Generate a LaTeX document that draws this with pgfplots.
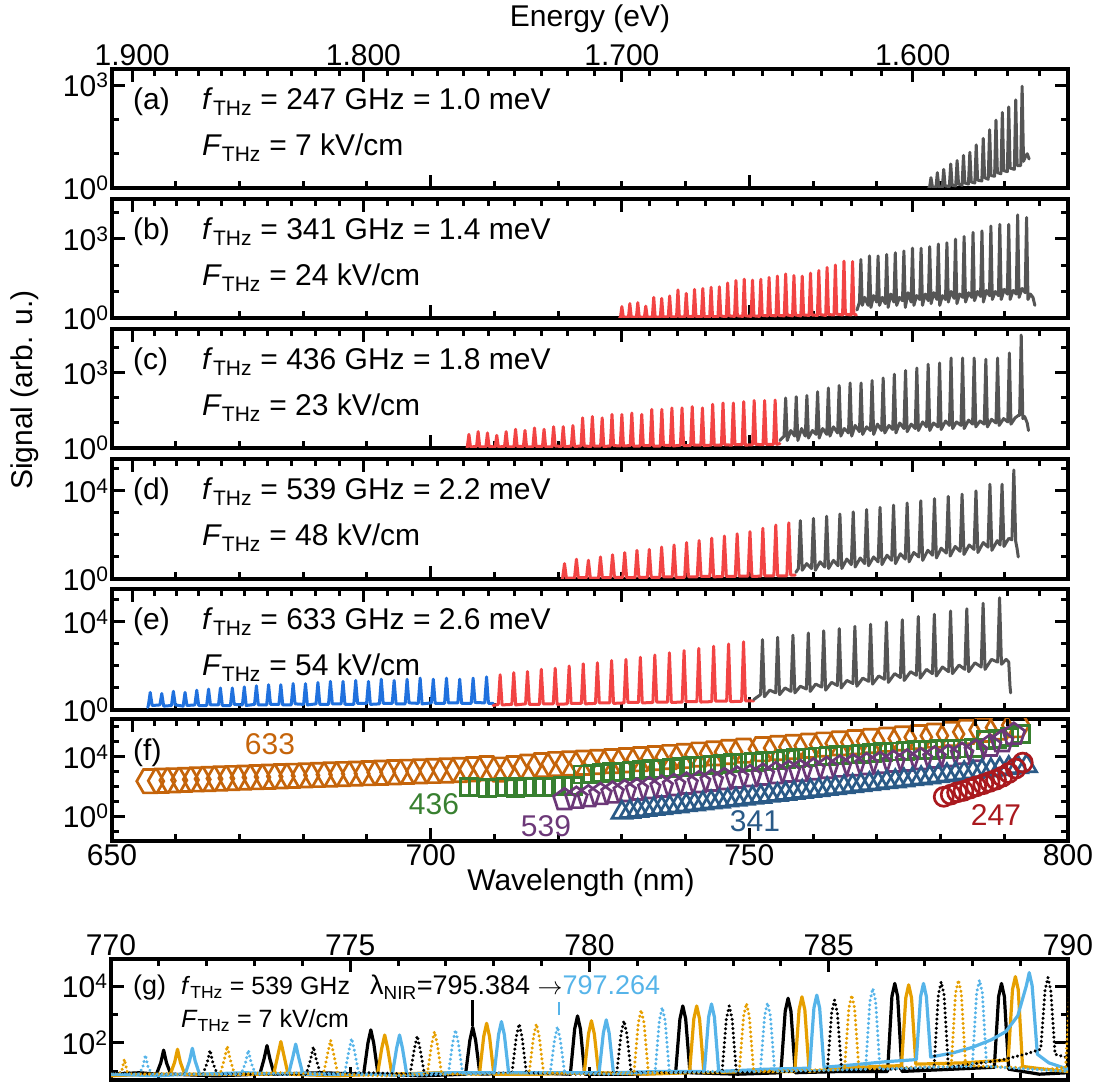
\documentclass[border=0pt]{standalone}
\usepackage{fontspec}
\setmainfont{Liberation Sans}
\usepackage{pgfplots}
\pgfplotsset{compat=1.18}
\newcommand{\fs}{\fontsize{30}{36}\selectfont}
\newcommand{\fg}{\fontsize{25}{30}\selectfont}
\newcommand{\fl}{\fontsize{27}{32}\selectfont}
\definecolor{cgray}{RGB}{85,85,85}
\definecolor{cred}{RGB}{242,68,68}
\definecolor{cblue}{RGB}{32,113,222}
\definecolor{c633}{RGB}{197,100,10}
\definecolor{c436}{RGB}{56,128,48}
\definecolor{c539}{RGB}{108,56,120}
\definecolor{c341}{RGB}{42,90,135}
\definecolor{c247}{RGB}{170,25,30}
\definecolor{gorange}{RGB}{230,159,0}
\definecolor{gsky}{RGB}{86,180,233}
\pgfdeclareplotmark{hexagon}{%
  \pgfpathmoveto{\pgfqpointpolar{0}{\pgfplotmarksize}}%
  \pgfpathlineto{\pgfqpointpolar{60}{\pgfplotmarksize}}%
  \pgfpathlineto{\pgfqpointpolar{120}{\pgfplotmarksize}}%
  \pgfpathlineto{\pgfqpointpolar{180}{\pgfplotmarksize}}%
  \pgfpathlineto{\pgfqpointpolar{240}{\pgfplotmarksize}}%
  \pgfpathlineto{\pgfqpointpolar{300}{\pgfplotmarksize}}%
  \pgfpathclose\pgfusepathqstroke}
\pgfplotsset{
  pnlbase/.style={scale only axis, anchor=south west,
    axis line style={line width=3.5pt},
    every tick/.style={black, line width=3pt},
    major tick length=13pt, minor tick length=7pt,
    tick align=inside, tick label style={font=\fs},
    clip marker paths=true},
  pnlwl/.style={pnlbase, width=956pt, xmin=650, xmax=800,
    xtick={650,700,750,800},
    minor xtick={660,670,680,690,710,720,730,740,760,770,780,790},
    xtick pos=left, xticklabels={}},
  pnlen/.style={pnlbase, width=956pt, xmin=650, xmax=800, ymin=0, ymax=1,
    ytick=\empty, axis line style={draw=none},
    xtick={653.16,689.44,730.00,775.63},
    minor xtick={656.61,660.11,663.64,667.20,670.81,674.46,678.14,681.87,685.64,693.30,697.19,701.13,705.11,709.14,713.22,717.34,721.51,725.73,734.32,738.69,743.11,747.59,752.12,756.71,761.35,766.05,770.81,780.50,785.44,790.45,795.51},
    xtick pos=right, xticklabels={}},
  plsp/.style={line width=3pt, line join=round, line cap=round, mark=none},
  plmk/.style={only marks, mark options={line width=2.7pt, solid, fill=none}},
  pldt/.style={line width=3.4pt, line join=round, line cap=round, mark=none, dash pattern=on 0.01pt off 4.6pt},
  plsl/.style={line width=3.2pt, line join=round, line cap=round, mark=none},
}
\begin{document}
\begin{tikzpicture}[x=1pt,y=1pt]
\path[use as bounding box] (0,0) rectangle (1098,1082);
% ---------------- (a)
\begin{axis}[pnlwl, height=119pt, at={(112pt,894pt)}, ymode=log, ymin=1, ymax=2950,
  ytick={1,1000}, yticklabels={10\textsuperscript{0},10\textsuperscript{3}}, minor ytick={10,100}]
\addplot[plsp, cgray] coordinates {(778.1,1) (778.28,1.05) (778.5,2.0) (778.72,1.1)
(779.28,1.0) (779.5,2.8) (779.72,1.1) (780.28,1.05) (780.5,3.5) (780.72,1.15)
(781.38,1.1) (781.6,5.0) (781.82,1.2) (782.38,1.15) (782.6,6.3) (782.82,1.3)
(783.38,1.2) (783.6,8.9) (783.82,1.4) (784.38,1.3) (784.6,11) (784.82,1.5)
(785.38,1.4) (785.6,18) (785.82,1.7) (786.48,1.6) (786.7,28) (786.92,2.0)
(787.48,1.8) (787.7,50) (787.92,2.3) (788.48,2.2) (788.7,95) (788.92,2.8)
(789.48,2.6) (789.7,160) (789.92,3.2) (790.48,3.0) (790.7,230) (790.92,3.8)
(791.58,3.5) (791.8,370) (792.02,4.5) (792.58,4.5) (792.8,930) (793.02,6) (793.3,8) (793.6,10) (793.9,7)};
\end{axis}
\begin{axis}[pnlen, height=119pt, at={(112pt,894pt)}, xticklabel pos=right, xticklabels={1.900,1.800,1.700,1.600}]
\end{axis}
% ---------------- (b)
\begin{axis}[pnlwl, height=119pt, at={(112pt,764pt)}, ymode=log, ymin=1, ymax=31000,
  ytick={1,1000}, yticklabels={10\textsuperscript{0},10\textsuperscript{3}}, minor ytick={10,100,10000}]
\addplot[plsp, cred] coordinates {(729.6,1) (729.78,1.05) (730.0,2.7) (730.22,1.1)
(731.03,1.05) (731.25,3.5) (731.47,1.1) (732.28,1.05) (732.5,3.8) (732.72,1.1)
(733.53,1.05) (733.75,2.8) (733.97,1.1) (734.78,1.05) (735.0,6.0) (735.22,1.1)
(736.03,1.05) (736.25,5.5) (736.47,1.1) (737.28,1.1) (737.5,6.8) (737.72,1.1)
(738.58,1.1) (738.8,11.5) (739.02,1.1) (739.88,1.1) (740.1,8.5) (740.32,1.15)
(741.18,1.1) (741.4,12) (741.62,1.15) (742.48,1.1) (742.7,13) (742.92,1.15)
(743.78,1.1) (744.0,14.5) (744.22,1.15) (745.08,1.1) (745.3,15) (745.52,1.2)
(746.38,1.1) (746.6,21) (746.82,1.2) (747.68,1.15) (747.9,26) (748.12,1.2)
(748.98,1.15) (749.2,29) (749.42,1.2) (750.28,1.15) (750.5,27) (750.72,1.2)
(751.58,1.15) (751.8,29) (752.02,1.25) (752.88,1.2) (753.1,34) (753.32,1.25)
(754.18,1.2) (754.4,38) (754.62,1.25) (755.48,1.2) (755.7,46) (755.92,1.3)
(756.78,1.2) (757.0,40) (757.22,1.3) (758.08,1.2) (758.3,38) (758.52,1.3)
(759.38,1.25) (759.6,49) (759.82,1.3) (760.68,1.25) (760.9,62) (761.12,1.35)
(761.98,1.25) (762.2,81) (762.42,1.35) (763.28,1.3) (763.5,100) (763.72,1.4)
(764.63,1.3) (764.85,140) (765.07,1.4) (765.98,1.3) (766.2,135) (766.42,1.4) (766.8,1.3)};
\addplot[plsp, cgray] coordinates {(766.9,2) (767.28,4) (767.5,160) (767.72,3) (768.1,6)
(768.63,3) (768.85,220) (769.07,2.5) (769.5,7) (769.98,4) (770.2,220) (770.42,3) (770.85,6)
(771.33,3.5) (771.55,250) (771.77,2.5) (772.2,8) (772.68,4) (772.9,290) (773.12,3) (773.55,6)
(774.03,4.5) (774.25,340) (774.47,2.5) (774.9,9) (775.38,4) (775.6,430) (775.82,3) (776.25,7)
(776.73,5) (776.95,430) (777.17,3) (777.6,8) (778.08,4.5) (778.3,490) (778.52,3.5) (778.95,9)
(779.43,5) (779.65,620) (779.87,3) (780.3,7) (780.78,5) (781.0,690) (781.22,4) (781.65,10)
(782.13,5.5) (782.35,950) (782.57,3.5) (783.0,8) (783.48,6) (783.7,1200) (783.92,4) (784.4,9)
(784.88,6) (785.1,1700) (785.32,4.5) (785.8,10) (786.28,6.5) (786.5,1950) (786.72,4) (787.2,11)
(787.68,7) (787.9,2950) (788.12,5) (788.6,10) (789.08,7) (789.3,3400) (789.52,5) (790.0,12)
(790.48,8) (790.7,3400) (790.92,5) (791.4,11) (791.88,8) (792.1,7800) (792.32,6) (792.8,13)
(793.28,9) (793.5,6200) (793.72,5) (794.1,8) (794.5,6) (794.8,3)};
\end{axis}
\begin{axis}[pnlen, height=119pt, at={(112pt,764pt)}]
\end{axis}
% ---------------- (c)
\begin{axis}[pnlwl, height=119pt, at={(112pt,634pt)}, ymode=log, ymin=1, ymax=57500,
  ytick={1,1000}, yticklabels={10\textsuperscript{0},10\textsuperscript{3}}, minor ytick={10,100,10000}]
\addplot[plsp, cred] coordinates {(705.7,1) (705.75,1.1) (706.00,3.5) (706.25,1.1)
(707.20,1.15) (707.45,4.5) (707.70,1.1) (708.66,1.1) (708.91,4.0) (709.16,1.15)
(710.12,1.1) (710.37,3.2) (710.62,1.1) (711.59,1.15) (711.84,4.5) (712.09,1.1)
(713.07,1.1) (713.32,5.6) (713.57,1.15) (714.55,1.15) (714.80,5.0) (715.05,1.1)
(716.04,1.1) (716.29,6.3) (716.54,1.15) (717.54,1.15) (717.79,5.6) (718.04,1.1)
(719.04,1.1) (719.29,7.1) (719.54,1.2) (720.55,1.15) (720.80,7.1) (721.05,1.1)
(722.07,1.2) (722.32,7.9) (722.57,1.15) (723.59,1.2) (723.84,16) (724.09,1.2)
(725.12,1.15) (725.37,18) (725.62,1.2) (726.66,1.2) (726.91,16) (727.16,1.15)
(728.20,1.2) (728.45,22) (728.70,1.25) (729.75,1.2) (730.00,22) (730.25,1.2)
(731.31,1.25) (731.56,25) (731.81,1.2) (732.87,1.2) (733.12,22) (733.37,1.25)
(734.44,1.25) (734.69,35) (734.94,1.2) (736.02,1.2) (736.27,35) (736.52,1.3)
(737.60,1.25) (737.85,40) (738.10,1.2) (739.19,1.3) (739.44,40) (739.69,1.25)
(740.79,1.25) (741.04,45) (741.29,1.3) (742.39,1.3) (742.64,40) (742.89,1.25)
(744.00,1.3) (744.25,56) (744.50,1.3) (745.62,1.3) (745.87,63) (746.12,1.35)
(747.24,1.3) (747.49,63) (747.74,1.35) (748.87,1.35) (749.12,71) (749.37,1.3)
(750.51,1.35) (750.76,79) (751.01,1.4) (752.15,1.35) (752.40,79) (752.65,1.4)
(753.80,1.4) (754.05,83) (754.30,1.4) (754.8,1.5)};
\addplot[plsp, cgray] coordinates {(754.8,2) (755.45,3) (755.70,100) (755.95,2) (756.5,5)
(757.11,3) (757.36,112) (757.61,2) (758.2,6) (758.78,3) (759.03,126) (759.28,2.5) (759.9,5)
(760.46,3.5) (760.71,178) (760.96,2.5) (761.5,6) (762.15,3.5) (762.40,251) (762.65,3) (763.2,7)
(763.85,4) (764.10,316) (764.35,3) (764.9,6) (765.56,4) (765.81,398) (766.06,3) (766.6,8)
(767.28,4.5) (767.53,398) (767.78,3.5) (768.4,7) (769.01,5) (769.26,501) (769.51,3.5) (770.1,9)
(770.75,5) (771.00,631) (771.25,4) (771.9,8) (772.50,5.5) (772.75,891) (773.00,4) (773.6,10)
(774.26,6) (774.51,1260) (774.76,4.5) (775.4,9) (776.03,6) (776.28,1580) (776.53,5) (777.2,11)
(777.81,7) (778.06,2240) (778.31,5) (778.9,10) (779.60,7) (779.85,2510) (780.10,5.5) (780.8,12)
(781.40,8) (781.65,3980) (781.90,6) (782.5,11) (783.21,8) (783.46,3980) (783.71,6) (784.4,13)
(785.03,9) (785.28,3980) (785.53,7) (786.2,12) (786.86,9) (787.11,3550) (787.36,7) (788.0,14)
(788.70,10) (788.95,3980) (789.20,8) (789.9,15) (790.55,11) (790.80,6310) (791.05,9) (791.7,16) (792.2,20)
(792.41,20) (792.66,33000) (792.91,15) (793.2,18) (793.6,10) (793.8,5)};
\end{axis}
\begin{axis}[pnlen, height=119pt, at={(112pt,634pt)}]
\end{axis}
% ---------------- (d)
\begin{axis}[pnlwl, height=120pt, at={(112pt,503pt)}, ymode=log, ymin=1, ymax=280000,
  ytick={1,10000}, yticklabels={10\textsuperscript{0},10\textsuperscript{4}}, minor ytick={10,100,1000,100000}]
\addplot[plsp, cred] coordinates {(720.6,1) (720.7,1.1) (721.00,5.0) (721.30,1.1)
(722.57,1.1) (722.87,7.9) (723.17,1.15) (724.45,1.15) (724.75,7.1) (725.05,1.1)
(726.34,1.1) (726.64,10) (726.94,1.15) (728.24,1.15) (728.54,12.6) (728.84,1.2)
(730.15,1.2) (730.45,15.8) (730.75,1.15) (732.07,1.15) (732.37,20) (732.67,1.2)
(734.00,1.2) (734.30,22) (734.60,1.2) (735.94,1.2) (736.24,28) (736.54,1.25)
(737.89,1.25) (738.19,35) (738.49,1.2) (739.85,1.2) (740.15,45) (740.45,1.25)
(741.82,1.25) (742.12,56) (742.42,1.3) (743.80,1.3) (744.10,71) (744.40,1.25)
(745.79,1.3) (746.09,89) (746.39,1.3) (747.79,1.3) (748.09,112) (748.39,1.35)
(749.80,1.35) (750.10,141) (750.40,1.3) (751.82,1.35) (752.12,200) (752.42,1.4)
(753.85,1.4) (754.15,282) (754.45,1.4) (755.89,1.4) (756.19,355) (756.49,1.5) (757.2,1.5)};
\addplot[plsp, cgray] coordinates {(757.3,2) (757.70,3) (758.0,447) (758.30,2.5) (759.0,5)
(759.76,3) (760.06,562) (760.36,2.5) (761.1,6) (761.83,3.5) (762.13,708) (762.43,3) (763.2,7)
(763.91,4) (764.21,891) (764.51,3) (765.3,8) (766.00,4.5) (766.30,1120) (766.60,3.5) (767.4,9)
(768.10,5) (768.40,1410) (768.70,4) (769.5,10) (770.21,6) (770.51,1780) (770.81,4.5) (771.6,12)
(772.33,7) (772.63,2240) (772.93,5) (773.7,14) (774.46,8) (774.76,2820) (775.06,6) (775.8,16)
(776.60,10) (776.90,3550) (777.20,7) (778.0,20) (778.75,12) (779.05,4470) (779.35,9) (780.1,25)
(780.91,15) (781.21,5620) (781.51,11) (782.3,30) (783.08,18) (783.38,7080) (783.68,13) (784.5,35)
(785.26,22) (785.56,10000) (785.86,16) (786.7,45) (787.45,28) (787.75,20000) (788.05,20) (788.9,55)
(789.35,35) (789.65,20000) (789.95,30) (790.7,70) (791.2,60) (791.5,89100) (791.8,50) (792.0,25) (792.2,10)};
\end{axis}
\begin{axis}[pnlen, height=120pt, at={(112pt,503pt)}]
\end{axis}
% ---------------- (e)
\begin{axis}[pnlwl, height=121pt, at={(112pt,372pt)}, ymode=log, ymin=1, ymax=316000,
  ytick={1,10000}, yticklabels={10\textsuperscript{0},10\textsuperscript{4}}, minor ytick={10,100,1000,100000}]
\addplot[plsp, cblue] coordinates {(655.6,1.3) (655.70,1.6) (656.00,6.3) (656.30,1.6)
(657.51,1.7) (657.81,5.6) (658.11,1.5) (659.33,1.6) (659.63,7.1) (659.93,1.7)
(661.16,1.5) (661.46,6.3) (661.76,1.6) (663.00,1.7) (663.30,7.9) (663.60,1.6)
(664.85,1.6) (665.15,8.9) (665.45,1.7) (666.71,1.7) (667.01,10) (667.31,1.6)
(668.58,1.6) (668.88,10) (669.18,1.8) (670.46,1.7) (670.76,11.2) (671.06,1.6)
(672.36,1.8) (672.66,12.6) (672.96,1.7) (674.27,1.7) (674.57,14.1) (674.87,1.8)
(676.19,1.8) (676.49,14.1) (676.79,1.7) (678.12,1.7) (678.42,15.8) (678.72,1.9)
(680.06,1.8) (680.36,15.8) (680.66,1.7) (682.01,1.9) (682.31,17.8) (682.61,1.8)
(683.97,1.8) (684.27,20) (684.57,1.9) (685.95,1.9) (686.25,20) (686.55,1.8)
(687.94,1.8) (688.24,22) (688.54,2.0) (689.94,2.0) (690.24,20) (690.54,1.8)
(691.95,1.9) (692.25,25) (692.55,2.0) (693.97,2.0) (694.27,22) (694.57,1.9)
(696.00,1.9) (696.30,25) (696.60,2.1) (698.05,2.0) (698.35,28) (698.65,1.9)
(700.11,2.1) (700.41,25) (700.71,2.0) (702.18,2.0) (702.48,28) (702.78,2.1)
(704.26,2.1) (704.56,25) (704.86,2.0) (706.36,2.0) (706.66,28) (706.96,2.2)
(708.47,2.1) (708.77,32) (709.07,2.0) (709.8,2.0)};
\addplot[plsp, cred] coordinates {(709.8,1.6) (710.60,1.8) (710.90,40) (711.20,1.7)
(712.74,1.8) (713.04,50) (713.34,1.7) (714.89,1.9) (715.19,56) (715.49,1.8)
(717.06,1.8) (717.36,71) (717.66,1.9) (719.24,1.9) (719.54,79) (719.84,1.8)
(721.43,1.9) (721.73,100) (722.03,2.0) (723.64,2.0) (723.94,126) (724.24,1.9)
(725.86,2.0) (726.16,141) (726.46,2.1) (728.09,2.1) (728.39,178) (728.69,2.0)
(730.34,2.1) (730.64,200) (730.94,2.2) (732.60,2.2) (732.90,251) (733.20,2.1)
(734.87,2.2) (735.17,316) (735.47,2.3) (737.16,2.3) (737.46,398) (737.76,2.2)
(739.46,2.3) (739.76,501) (740.06,2.4) (741.77,2.4) (742.07,631) (742.37,2.3)
(744.10,2.4) (744.40,794) (744.70,2.5) (746.44,2.5) (746.74,1000) (747.04,2.4)
(748.79,2.5) (749.09,1260) (749.39,2.6) (750.7,2.6)};
\addplot[plsp, cgray] coordinates {(750.7,3) (751.76,5) (752.06,1580) (752.36,4) (753.2,8)
(754.14,6) (754.44,2000) (754.74,5) (755.6,10) (756.54,7) (756.84,2510) (757.14,6) (758.0,12)
(758.95,9) (759.25,3160) (759.55,7) (760.4,15) (761.37,11) (761.67,3980) (761.97,8) (762.9,18)
(763.81,13) (764.11,5010) (764.41,10) (765.3,22) (766.26,16) (766.56,6310) (766.86,12) (767.8,28)
(768.73,20) (769.03,7940) (769.33,15) (770.3,35) (771.21,25) (771.51,10000) (771.81,18) (772.8,45)
(773.70,30) (774.00,12600) (774.30,22) (775.3,55) (776.21,38) (776.51,17800) (776.81,28) (777.8,70)
(778.73,45) (779.03,22400) (779.33,35) (780.3,90) (781.27,55) (781.57,31600) (781.87,45) (782.9,110)
(783.82,70) (784.12,39800) (784.42,55) (785.4,140) (786.38,90) (786.68,70800) (786.98,70) (788.0,200)
(788.96,150) (789.26,126000) (789.56,120) (790.3,200) (790.7,150) (790.9,12) (791.0,6)};
\end{axis}
\begin{axis}[pnlen, height=121pt, at={(112pt,372pt)}]
\end{axis}
% ---------------- (f)
\begin{axis}[pnlwl, height=122pt, at={(112pt,241pt)}, ymode=log, ymin=0.0214, ymax=3390000,
  xticklabels={650,700,750,800},
  ytick={1,10000}, yticklabels={10\textsuperscript{0},10\textsuperscript{4}}, minor ytick={0.1,10,100,1000,100000,1000000}]
\addplot[plmk, mark=hexagon, mark size=13.5pt, c633] coordinates {
(656.00,224) (657.81,240) (659.63,257) (661.46,275) (663.30,295) (665.15,316) (667.01,339) (668.88,363)
(670.76,389) (672.66,417) (674.57,447) (676.49,479) (678.42,513) (680.36,550) (682.31,589) (684.27,631)
(686.25,676) (688.24,724) (690.24,776) (692.25,832) (694.27,891) (696.30,955) (698.35,1023) (700.41,1096)
(702.48,1175) (704.56,1259) (706.66,1413) (708.77,1660)
(710.90,1350) (713.04,1700) (715.19,2140) (717.36,2690) (719.54,3160) (721.73,3470) (723.94,3890) (726.16,4370)
(728.39,5010) (730.64,5750) (732.90,6760) (735.17,7940) (737.46,9330) (739.76,11200) (742.07,13800) (744.40,16600)
(746.74,20400) (749.09,25100) (752.06,31600) (754.44,38000) (756.84,44700) (759.25,53700) (761.67,64600) (764.11,77600)
(766.56,93300) (769.03,112000) (771.51,138000) (774.00,166000) (776.51,204000) (779.03,257000) (781.57,331000)
(784.12,457000) (786.68,631000) (789.26,891000) (791.8,1300000)};
\addplot[plmk, mark=square, mark size=8.5pt, c436] coordinates {
(706.00,89) (707.45,85) (708.91,79) (710.37,83) (711.84,89) (713.32,79) (714.80,89) (716.29,100)
(717.79,89) (719.29,100) (720.80,112) (722.32,112)
(723.84,631) (725.37,708) (726.91,794) (728.45,891) (730.00,1000) (731.56,1122) (733.12,1259) (734.69,1413)
(736.27,1585) (737.85,1778) (739.44,1995) (741.04,2239) (742.64,2512) (744.25,2818) (745.87,3162) (747.49,3548)
(749.12,3981) (750.76,4467) (752.40,5012) (754.05,5623)
(755.70,7079) (757.36,7943) (759.03,8913) (760.71,10000) (762.40,11220) (764.10,12590) (765.81,14130) (767.53,15850)
(769.26,17780) (771.00,19950) (772.75,22390) (774.51,25120) (776.28,28180) (778.06,28180) (779.85,31620) (781.65,31620)
(783.46,35480) (785.28,39810) (787.11,125900) (788.95,158500) (790.80,199500) (792.66,316200)};
\addplot[plmk, mark=pentagon, mark size=11.5pt, c539] coordinates {
(721.00,12.6) (722.87,15.8) (724.75,20) (726.64,28.2) (728.54,35.5) (730.45,44.7) (732.37,56.2) (734.30,70.8)
(736.24,89.1) (738.19,112) (740.15,141) (742.12,178) (744.10,224) (746.09,282) (748.09,355) (750.10,447)
(752.12,562) (754.15,708) (756.19,891)
(758.0,1000) (760.06,1259) (762.13,1585) (764.21,1995) (766.30,2399) (768.40,2884) (770.51,3467) (772.63,4169)
(774.76,5012) (776.90,6310) (779.05,7943) (781.21,10000) (783.38,14130) (785.56,22390) (787.75,50120)
(789.65,100000) (791.5,316200)};
\addplot[plmk, mark=triangle, mark size=11.5pt, c341] coordinates {
(730.0,1.74) (731.25,2.0) (732.5,2.3) (733.75,2.65) (735.0,3.1) (736.25,3.5) (737.5,4.1) (738.8,4.7)
(740.1,5.5) (741.4,6.3) (742.7,7.4) (744.0,8.5) (745.3,9.8) (746.6,11.5) (747.9,13.2) (749.2,15.5)
(750.5,17.8) (751.8,20.4) (753.1,24) (754.4,27.5) (755.7,32) (757.0,37) (758.3,44) (759.6,50)
(760.9,58) (762.2,68) (763.5,78) (764.85,91) (766.2,105)
(767.5,123) (768.85,145) (770.2,166) (771.55,195) (772.9,224) (774.25,263) (775.6,309) (776.95,355)
(778.3,417) (779.65,490) (781.0,562) (782.35,661) (783.7,776) (785.1,912) (786.5,1070) (787.9,1230)
(789.3,1450) (790.7,1700) (792.1,2000) (793.5,2340)};
\addplot[plmk, mark=o, mark size=9.5pt, c247] coordinates {
(780.5,20) (781.6,28) (782.6,40) (783.6,50) (784.6,71) (785.6,100) (786.7,141) (787.7,200)
(788.7,282) (789.7,447) (790.7,794) (791.8,1585) (792.9,3981)};
\end{axis}
\begin{axis}[pnlen, height=122pt, at={(112pt,241pt)}]
\end{axis}
% ---------------- (g)
\begin{axis}[pnlbase, at={(111pt,2pt)}, width=957pt, height=121pt, xmin=770, xmax=790,
  ymode=log, ymin=5, ymax=89000,
  xtick={770,775,780,785,790}, xticklabels={770,775,780,785,790},
  minor xtick={771,772,773,774,776,777,778,779,781,782,783,784,786,787,788,789},
  xticklabel pos=right,
  ytick={100,10000}, yticklabels={10\textsuperscript{2},10\textsuperscript{4}}, minor ytick={10,1000}]
\addplot[plsl, black] coordinates {(770.0,8) (770.6,9)
(770.95,8) (771.04,20) (771.10,56) (771.16,20) (771.25,8) (772.2,7)
(773.11,8) (773.20,28) (773.26,81) (773.32,28) (773.41,8) (774.4,9)
(775.28,8) (775.37,100) (775.43,288) (775.49,100) (775.58,8) (776.5,7)
(777.41,8) (777.50,124) (777.56,355) (777.62,124) (777.71,8) (778.7,9)
(779.60,8) (779.69,312) (779.75,891) (779.81,312) (779.90,8) (780.9,8)
(781.80,9) (781.89,700) (781.95,1995) (782.01,700) (782.10,9) (783.1,8)
(784.00,9) (784.09,1300) (784.15,3715) (784.21,1300) (784.30,9) (785.3,10)
(786.23,10) (786.32,4300) (786.38,12300) (786.44,4300) (786.53,10) (787.6,12)
(788.46,14) (788.55,4300) (788.61,12300) (788.67,4300) (788.76,12) (789.4,8) (790.0,9)};
\addplot[plsl, gorange] coordinates {(770.0,7) (770.8,8)
(771.24,8) (771.33,21) (771.39,60) (771.45,21) (771.54,8) (772.5,8)
(773.40,8) (773.49,39) (773.55,112) (773.61,39) (773.70,8) (774.7,7)
(775.57,8) (775.66,67) (775.72,190) (775.78,67) (775.87,8) (776.8,9)
(777.70,8) (777.79,172) (777.85,490) (777.91,172) (778.00,8) (779.0,8)
(779.89,9) (779.98,211) (780.04,603) (780.10,211) (780.19,9) (781.2,8)
(782.09,9) (782.18,700) (782.24,1995) (782.30,700) (782.39,9) (783.4,10)
(784.29,10) (784.38,1460) (784.44,4170) (784.50,1460) (784.59,10) (785.6,14)
(786.52,16) (786.61,3850) (786.67,11000) (786.73,3850) (786.82,18) (787.8,20)
(788.75,25) (788.84,7500) (788.90,21400) (788.96,7500) (789.05,15) (789.5,12) (790.0,10)};
\addplot[plsl, gsky] coordinates {(770.0,8) (771.0,7)
(771.55,8) (771.64,23) (771.70,65) (771.76,23) (771.85,8) (772.8,9)
(773.71,8) (773.80,32) (773.86,91) (773.92,32) (774.01,8) (775.0,8)
(775.88,8) (775.97,67) (776.03,190) (776.09,67) (776.18,8) (777.1,9)
(778.01,9) (778.10,197) (778.16,562) (778.22,197) (778.31,9) (779.3,9)
(780.20,9) (780.29,226) (780.35,646) (780.41,226) (780.50,9) (781.5,10)
(782.40,10) (782.49,820) (782.55,2340) (782.61,820) (782.70,10) (783.7,12)
(784.60,13) (784.69,1680) (784.75,4790) (784.81,1680) (784.90,14) (785.5,17) (786.2,22)
(786.83,26) (786.92,4300) (786.98,12300) (787.04,4300) (787.13,32)
(787.6,45) (788.0,70) (788.4,130) (788.7,250) (788.95,900)
(789.13,10300) (789.19,29500) (789.25,10300) (789.36,40) (789.6,20) (790.0,12)};
\addplot[pldt, black] coordinates {(770.0,9) (771.2,8)
(771.92,8) (772.01,20) (772.07,56) (772.13,20) (772.22,8) (773.2,8)
(774.08,8) (774.17,26) (774.23,74) (774.29,26) (774.38,8) (775.4,9)
(776.25,8) (776.34,62) (776.40,178) (776.46,62) (776.55,8) (777.5,8)
(778.38,9) (778.47,164) (778.53,468) (778.59,164) (778.68,9) (779.7,8)
(780.57,9) (780.66,211) (780.72,603) (780.78,211) (780.87,9) (781.9,9)
(782.77,9) (782.86,700) (782.92,1995) (782.98,700) (783.07,9) (784.1,10)
(784.97,10) (785.06,1130) (785.12,3236) (785.18,1130) (785.27,11) (786.3,12)
(787.20,13) (787.29,4900) (787.35,14100) (787.41,4900) (787.50,14)
(788.0,18) (788.6,25) (789.1,40)
(789.43,60) (789.52,7000) (789.58,20000) (789.64,7000) (789.73,40) (790.0,30)};
\addplot[pldt, gorange] coordinates {(770.0,8) (770.13,8) (770.22,9.5) (770.28,27) (770.34,9.5) (770.43,8) (771.4,8)
(772.28,8) (772.37,27) (772.43,78) (772.49,27) (772.58,8) (773.5,9)
(774.44,8) (774.53,44) (774.59,126) (774.65,44) (774.74,8) (775.7,7)
(776.61,8) (776.70,88) (776.76,251) (776.82,88) (776.91,8) (777.9,8)
(778.74,9) (778.83,164) (778.89,468) (778.95,164) (779.04,9) (780.0,8)
(780.93,9) (781.02,506) (781.08,1445) (781.14,506) (781.23,9) (782.2,9)
(783.13,10) (783.22,860) (783.28,2455) (783.34,860) (783.43,10) (784.5,11)
(785.33,12) (785.42,1680) (785.48,4790) (785.54,1680) (785.63,12) (786.7,14)
(787.56,15) (787.65,5700) (787.71,16200) (787.77,5700) (787.86,16) (788.8,14) (789.6,12)
(789.95,14) (790.04,7000) (790.10,20000)};
\addplot[pldt, gsky] coordinates {(770.0,8) (770.57,8) (770.66,13) (770.72,38) (770.78,13) (770.87,8) (771.8,8)
(772.72,8) (772.81,20) (772.87,56) (772.93,20) (773.02,8) (774.0,9)
(774.88,8) (774.97,51) (775.03,145) (775.09,51) (775.18,8) (776.1,7)
(777.05,8) (777.14,100) (777.20,288) (777.26,100) (777.35,8) (778.3,9)
(779.18,9) (779.27,130) (779.33,372) (779.39,130) (779.48,9) (780.4,8)
(781.37,9) (781.46,620) (781.52,1778) (781.58,620) (781.67,9) (782.6,10)
(783.57,10) (783.66,900) (783.72,2570) (783.78,900) (783.87,10) (784.9,11)
(785.77,12) (785.86,2900) (785.92,8300) (785.98,2900) (786.07,12) (787.1,14)
(788.00,15) (788.09,5700) (788.15,16200) (788.21,5700) (788.30,15) (789.2,12) (790.0,10)};
\draw[black, line width=2.5pt] (axis cs:777.56,380) -- (axis cs:777.56,3240);
\draw[gsky, line width=2.5pt] (axis cs:779.36,955) -- (axis cs:779.36,2750);
\end{axis}
% ---------------- texts
\begin{scope}[every node/.style={inner sep=0pt, anchor=base west}]
\node[font=\fs] at (133,972) {(a)};
\node[font=\fs] at (202,972) {\textit{f}\textsubscript{THz} = 247 GHz = 1.0 meV};
\node[font=\fs] at (202,926) {\textit{F}\textsubscript{THz} = 7 kV/cm};
\node[font=\fs] at (133,842) {(b)};
\node[font=\fs] at (202,842) {\textit{f}\textsubscript{THz} = 341 GHz = 1.4 meV};
\node[font=\fs] at (202,796) {\textit{F}\textsubscript{THz} = 24 kV/cm};
\node[font=\fs] at (133,712) {(c)};
\node[font=\fs] at (202,712) {\textit{f}\textsubscript{THz} = 436 GHz = 1.8 meV};
\node[font=\fs] at (202,666) {\textit{F}\textsubscript{THz} = 23 kV/cm};
\node[font=\fs] at (133,582) {(d)};
\node[font=\fs] at (202,582) {\textit{f}\textsubscript{THz} = 539 GHz = 2.2 meV};
\node[font=\fs] at (202,536) {\textit{F}\textsubscript{THz} = 48 kV/cm};
\node[font=\fs] at (133,452) {(e)};
\node[font=\fs] at (202,452) {\textit{f}\textsubscript{THz} = 633 GHz = 2.6 meV};
\node[font=\fs] at (202,406) {\textit{F}\textsubscript{THz} = 54 kV/cm};
\node[font=\fs] at (133,321) {(f)};
\node[font=\fl] at (133,87) {(g)};
\node[font=\fg] at (181,87) {\textit{f}\textsubscript{THz} = 539 GHz};
\node[font=\fg] at (181,54) {\textit{F}\textsubscript{THz} = 7 kV/cm};
\node[font=\fl] at (370,87) {λ\textsubscript{NIR}=795.384 $\rightarrow$\textcolor{gsky}{797.264}};
\end{scope}
\begin{scope}[every node/.style={inner sep=0pt, anchor=center, font=\fs}]
\node[text=c633] at (270,338) {633};
\node[text=c436] at (434,278) {436};
\node[text=c539] at (546,256) {539};
\node[text=c341] at (755,261) {341};
\node[text=c247] at (996,267) {247};
\node at (590,1063) {Energy (eV)};
\node at (581,199) {Wavelength (nm)};
\node[rotate=90] at (25,692) {Signal (arb. u.)};
\end{scope}
\end{tikzpicture}
\end{document}
